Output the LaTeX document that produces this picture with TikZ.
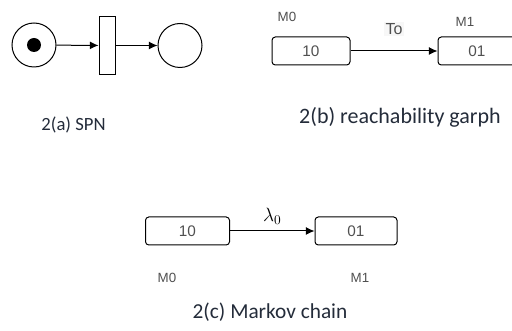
\documentclass[tikz,border=0pt]{standalone}
\usepackage{fontspec}
\setmainfont{Carlito}
\newfontfamily\arialf{Liberation Sans}
\usetikzlibrary{arrows.meta}
\definecolor{capcol}{RGB}{36,44,58}
\definecolor{lblcol}{RGB}{80,80,80}
\begin{document}
\begin{tikzpicture}[x=0.75pt,y=-0.75pt,
  place/.style={circle,draw,line width=0.75pt,minimum size=33pt,inner sep=0pt},
  token/.style={circle,fill=black,minimum size=10.5pt,inner sep=0pt},
  trans/.style={rectangle,draw,line width=0.75pt,minimum width=12pt,minimum height=44pt,inner sep=0pt},
  state/.style={rectangle,rounded corners=2.5pt,draw,line width=0.75pt,minimum width=58.5pt,minimum height=21pt,inner sep=0pt,font=\arialf\fontsize{11.5}{13}\selectfont,text=lblcol},
  lbl/.style={font=\arialf\fontsize{10}{12}\selectfont,text=lblcol,inner sep=0pt},
  captxt/.style={font=\fontsize{14}{16}\selectfont,text=capcol,inner sep=0pt},
  arr/.style={-{Latex[length=6.5pt,width=6pt]},line width=0.75pt}]
\useasboundingbox (0,0) rectangle (512,331);
\clip (0,0) rectangle (512,331);
% (a) SPN
\node[place] (p0) at (34,45) {};
\node[token] (tk) at (34,45) {};
\node[trans] (t0) at (107,45.5) {};
\node[place] (p1) at (180,45.5) {};
\draw[arr] (p0) -- (t0);
\draw[arr] (t0) -- (p1);
\node[captxt] (ca) at (73.5,125) {2(a) SPN};
% (b) reachability graph
\node[state] (b0) at (311,51) {10};
\node[state] (b1) at (477,51) {01};
\draw[arr] (b0) -- (b1) node[midway,above=11pt,lbl,font=\arialf\fontsize{12}{14}\selectfont,fill=black!3,inner sep=1pt] (tl) {To};
\node[lbl] (bm0) at (287,17) {M0};
\node[lbl] (bm1) at (465,22) {M1};
\node[captxt,font=\fontsize{16.5}{18}\selectfont] (cb) at (400,117) {2(b) reachability garph};
% (c) Markov chain
\node[state,minimum width=63pt] (c0) at (187.5,231) {10};
\node[state,minimum width=61.5pt] (c1) at (356,231) {01};
\draw[arr] (c0) -- (c1) node[midway,above=1pt,font=\fontsize{14}{16}\selectfont] (lam) {$\lambda_0$};
\node[lbl] (cm0) at (167,278) {M0};
\node[lbl] (cm1) at (360,278) {M1};
\node[captxt,font=\fontsize{16}{18}\selectfont] (cc) at (270,312) {2(c) Markov chain};
\end{tikzpicture}
\end{document}
